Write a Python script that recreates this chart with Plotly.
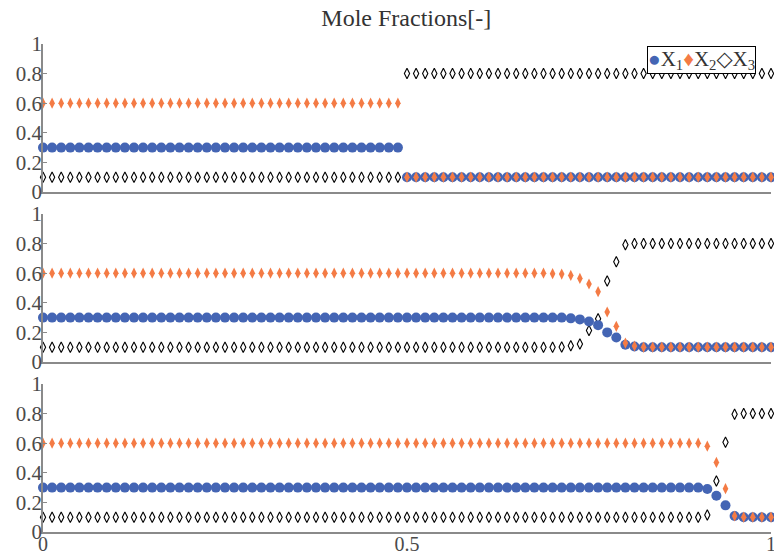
import plotly.graph_objects as go

# Spatial grid: 81 cells on [0, 1]
n_pts = 81
x = [i / 80 for i in range(n_pts)]

# Panel 1: sharp step at x = 0.5
p1_x1_left, p1_x1_right = 0.3, 0.1
p1_x2_left, p1_x2_right = 0.6, 0.1
p1_x3_left, p1_x3_right = 0.1, 0.8
p1_n_left = 40

# Panel 2: smeared front around x ~ 0.77 (cells 56..65)
p2_x1_front = [0.30, 0.30, 0.295, 0.288, 0.274, 0.249, 0.20, 0.165, 0.117, 0.105]
p2_x2_front = [0.597, 0.594, 0.585, 0.565, 0.527, 0.475, 0.338, 0.241, 0.128, 0.108]
p2_x3_front = [0.10, 0.102, 0.11, 0.122, 0.212, 0.293, 0.548, 0.677, 0.793, 0.80]
p2_n_left = 56

# Panel 3: sharper front around x ~ 0.92 (cells 73..76)
p3_x1_front = [0.29, 0.245, 0.18, 0.108]
p3_x2_front = [0.58, 0.47, 0.293, 0.108]
p3_x3_front = [0.115, 0.345, 0.606, 0.795]
p3_n_left = 73


def profile(left, front, right, n_left):
    n_right = n_pts - n_left - len(front)
    return [left] * n_left + list(front) + [right] * n_right


panels = [
    (
        profile(p1_x1_left, [], p1_x1_right, p1_n_left),
        profile(p1_x2_left, [], p1_x2_right, p1_n_left),
        profile(p1_x3_left, [], p1_x3_right, p1_n_left),
    ),
    (
        profile(0.3, p2_x1_front, 0.1, p2_n_left),
        profile(0.6, p2_x2_front, 0.1, p2_n_left),
        profile(0.1, p2_x3_front, 0.8, p2_n_left),
    ),
    (
        profile(0.3, p3_x1_front, 0.1, p3_n_left),
        profile(0.6, p3_x2_front, 0.1, p3_n_left),
        profile(0.1, p3_x3_front, 0.8, p3_n_left),
    ),
]

blue = "#4465B4"
orange = "#F47B45"
font_family = "Liberation Serif, DejaVu Serif, serif"
axis_gray = "#8a8a8a"
label_gray = "#4a4a4a"

# Panel vertical domains (top -> bottom), plot area height 488 px
domains = [[340 / 488, 1.0], [170 / 488, 318 / 488], [0.0, 148 / 488]]

fig = go.Figure()
for k, (x1, x2, x3) in enumerate(panels):
    ax = "" if k == 0 else str(k + 1)
    common = dict(x=x, xaxis="x" + ax, yaxis="y" + ax, mode="markers",
                  cliponaxis=False, showlegend=False)
    fig.add_trace(go.Scatter(y=x3, name="X3",
                             marker=dict(symbol="diamond-tall-open", size=7.5,
                                         color="black", line=dict(width=1.1, color="black")),
                             **common))
    fig.add_trace(go.Scatter(y=x1, name="X1",
                             marker=dict(symbol="circle", size=10, color=blue,
                                         line=dict(width=0)),
                             **common))
    fig.add_trace(go.Scatter(y=x2, name="X2",
                             marker=dict(symbol="diamond-tall", size=8, color=orange,
                                         line=dict(width=0)),
                             **common))

layout = dict(
    template="none",
    width=774, height=554,
    margin=dict(l=43, r=3, t=44, b=22, autoexpand=False),
    paper_bgcolor="white", plot_bgcolor="white",
    font=dict(family=font_family, size=21, color=label_gray),
    title=dict(text="Mole Fractions[-]", x=0.525, xanchor="center", y=0.968,
               yanchor="middle", font=dict(family=font_family, size=24, color="#333333")),
)

for k in range(3):
    sfx = "" if k == 0 else str(k + 1)
    layout["xaxis" + sfx] = dict(
        domain=[0, 1], range=[0, 1], anchor="y" + sfx, automargin=False,
        showline=True, linecolor=axis_gray, linewidth=1.5,
        showgrid=False, zeroline=False,
        tickvals=[0, 0.5, 1], ticktext=["0", "0.5", "1"],
        showticklabels=(k == 2), ticks="", ticklen=0,
        tickfont=dict(size=20),
        ticklabeloverflow="allow", ticklabelstandoff=-7,
        matches=None if k == 0 else "x",
    )
    layout["yaxis" + sfx] = dict(
        domain=domains[k], range=[0, 1], anchor="x" + sfx, automargin=False,
        showline=True, linecolor=axis_gray, linewidth=1.5,
        showgrid=False, zeroline=False,
        tickvals=[0, 0.2, 0.4, 0.6, 0.8, 1],
        ticktext=["0", "0.2", "0.4", "0.6", "0.8", "1"],
        ticks="inside", ticklen=4, tickcolor=axis_gray, tickwidth=1,
        ticklabelstandoff=-5, ticklabeloverflow="allow",
    )

fig.update_layout(**layout)

# Compact legend box in the top panel
legend_text = (
    f"<span style='color:{blue}'>●</span>X<sub>1</sub>"
    f"<span style='color:{orange}'>♦</span>X<sub>2</sub>"
    "◇X<sub>3</sub>"
)
fig.add_annotation(
    text=legend_text, xref="paper", yref="paper", x=0.979, y=0.995,
    xanchor="right", yanchor="top", showarrow=False,
    font=dict(family=font_family, size=21, color="#333333"),
    bgcolor="white", bordercolor="black", borderwidth=1, borderpad=0,
)

fig.write_html("out.html")
